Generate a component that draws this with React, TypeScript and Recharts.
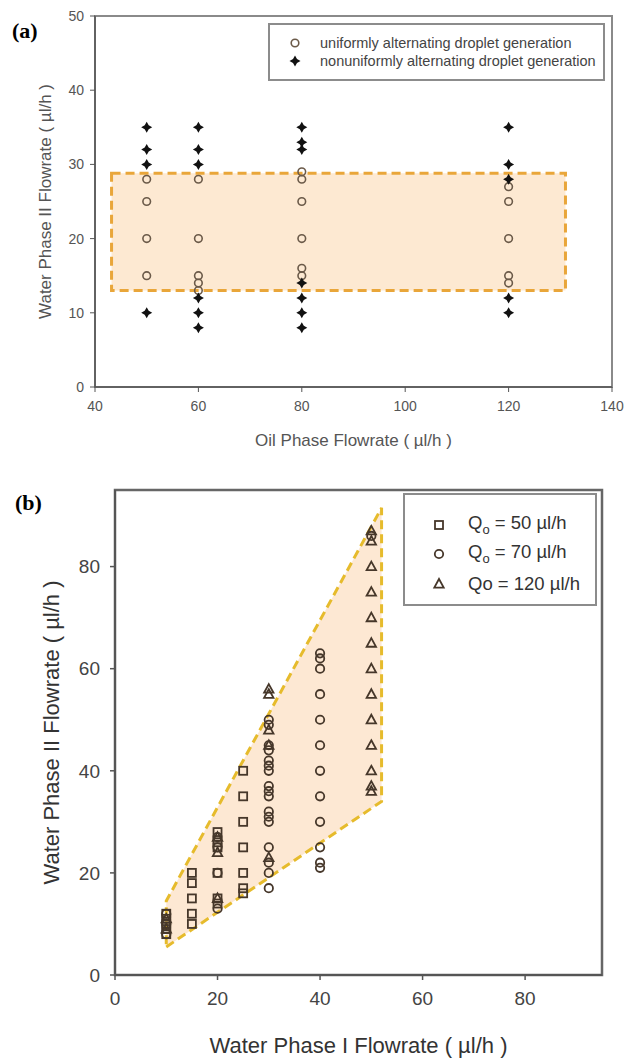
import React from 'react';
import { ScatterChart, Scatter, XAxis, YAxis, ReferenceArea, Legend } from 'recharts';

// (a) water phase II flowrate vs oil phase flowrate
const uniformOil = [50, 50, 50, 50, 60, 60, 60, 60, 60, 80, 80, 80, 80, 80, 80, 120, 120, 120, 120, 120];
const uniformWater = [28, 25, 20, 15, 28, 20, 15, 14, 13, 29, 28, 25, 20, 16, 15, 27, 25, 20, 15, 14];
const nonuniformOil = [50, 50, 50, 50, 60, 60, 60, 60, 60, 60, 80, 80, 80, 80, 80, 80, 80, 120, 120, 120, 120, 120];
const nonuniformWater = [35, 32, 30, 10, 35, 32, 30, 12, 10, 8, 35, 33, 32, 14, 12, 10, 8, 35, 30, 28, 12, 10];
const oilTicks = [40, 60, 80, 100, 120, 140];
const waterTicksA = [0, 10, 20, 30, 40, 50];
const zoneOil = [43.2, 131];
const zoneWaterA = [13, 28.8];

// (b) water phase II flowrate vs water phase I flowrate
const q50WaterI = [10, 10, 10, 10, 10, 15, 15, 15, 15, 15, 20, 20, 20, 20, 20, 20, 25, 25, 25, 25, 25, 25, 25];
const q50WaterII = [8, 9, 10, 11, 12, 10, 12, 15, 18, 20, 14, 15, 20, 25, 26, 28, 16, 17, 20, 25, 30, 35, 40];
const q70WaterI = [10, 10, 10, 20, 20, 20, 20,
  30, 30, 30, 30, 30, 30, 30, 30, 30, 30, 30, 30, 30, 30, 30, 30, 30,
  40, 40, 40, 40, 40, 40, 40, 40, 40, 40, 40, 40, 50];
const q70WaterII = [8, 10, 12, 13, 20, 25, 27,
  17, 20, 22, 25, 30, 31, 32, 35, 36, 37, 40, 41, 42, 44, 45, 49, 50,
  21, 22, 25, 30, 35, 40, 45, 50, 55, 60, 62, 63, 86];
const q120WaterI = [10, 10, 20, 20, 20, 30, 30, 30, 30, 30, 50, 50, 50, 50, 50, 50, 50, 50, 50, 50, 50, 50, 50];
const q120WaterII = [9, 11, 15, 24, 27, 23, 45, 48, 55, 56, 36, 37, 40, 45, 50, 55, 60, 65, 70, 75, 80, 85, 87];
const ticksB = [0, 20, 40, 60, 80];
const zoneWaterI = [10, 52, 52, 10];
const zoneWaterII = [5.5, 34, 91.5, 14.5];

const toPoints = (xs: number[], ys: number[]) => xs.map((x, i) => ({ x, y: ys[i] }));

const FONT = 'Arial, "Liberation Sans", sans-serif';
const MARK_B = '#46372a';

// markers
const ringA = (p: any) => (
  <circle cx={p.cx} cy={p.cy} r={3.8} fill="none" stroke="#6b5a49" strokeWidth={1.6} />
);
const starA = (p: any) => {
  const { cx, cy } = p;
  const a = 5.5;
  const t = 2;
  return (
    <path
      d={`M${cx},${cy - a} L${cx + t},${cy - t} L${cx + a},${cy} L${cx + t},${cy + t} L${cx},${cy + a} L${cx - t},${cy + t} L${cx - a},${cy} L${cx - t},${cy - t} Z`}
      fill="#111"
    />
  );
};
const squareB = (p: any) => (
  <rect x={p.cx - 4} y={p.cy - 4} width={8} height={8} fill="none" stroke={MARK_B} strokeWidth={1.8} />
);
const ringB = (p: any) => (
  <circle cx={p.cx} cy={p.cy} r={4.2} fill="none" stroke={MARK_B} strokeWidth={1.8} />
);
const triB = (p: any) => (
  <polygon
    points={`${p.cx},${p.cy - 5} ${p.cx + 4.7},${p.cy + 3.6} ${p.cx - 4.7},${p.cy + 3.6}`}
    fill="none"
    stroke={MARK_B}
    strokeWidth={1.8}
  />
);

// polygon zone for (b), mapped inside the box the library gives for its extent
const zoneShape = (p: any) => {
  const x0 = Math.min(...zoneWaterI);
  const x1 = Math.max(...zoneWaterI);
  const y0 = Math.min(...zoneWaterII);
  const y1 = Math.max(...zoneWaterII);
  const pts = zoneWaterI
    .map((vx, i) => {
      const px = p.x + ((vx - x0) / (x1 - x0)) * p.width;
      const py = p.y + ((y1 - zoneWaterII[i]) / (y1 - y0)) * p.height;
      return `${px},${py}`;
    })
    .join(' ');
  return (
    <polygon points={pts} fill="#fde8d3" stroke="#e6bb2c" strokeWidth={3} strokeDasharray="9 5" />
  );
};

const LegendA = () => (
  <div
    style={{
      border: '2px solid #8c8c8c',
      boxSizing: 'border-box',
      width: 337,
      height: 58,
      padding: '9px 0 0 17px',
      fontSize: 14.5,
      color: '#444',
      background: '#fff',
    }}
  >
    {[
      { label: 'uniformly alternating droplet generation', shape: ringA },
      { label: 'nonuniformly alternating droplet generation', shape: starA },
    ].map((row) => (
      <div key={row.label} style={{ display: 'flex', alignItems: 'center', height: 18 }}>
        <svg width={16} height={14}>{row.shape({ cx: 8, cy: 7 })}</svg>
        <span style={{ marginLeft: 17 }}>{row.label}</span>
      </div>
    ))}
  </div>
);

const LegendB = () => (
  <div
    style={{
      border: '2px solid #8c8c8c',
      boxSizing: 'border-box',
      width: 194,
      height: 113,
      padding: '15px 0 0 26px',
      fontSize: 18.5,
      color: '#333',
      background: '#fff',
    }}
  >
    {[
      { label: <>Q<sub style={{ fontSize: 13 }}>o</sub> = 50 µl/h</>, shape: squareB },
      { label: <>Q<sub style={{ fontSize: 13 }}>o</sub> = 70 µl/h</>, shape: ringB },
      { label: <>Qo = 120 µl/h</>, shape: triB },
    ].map((row, i) => (
      <div key={i} style={{ display: 'flex', alignItems: 'center', height: 29.5 }}>
        <svg width={16} height={16}>{row.shape({ cx: 8, cy: 8 })}</svg>
        <span style={{ marginLeft: 21, lineHeight: 1 }}>{row.label}</span>
      </div>
    ))}
  </div>
);

const App: React.FC = () => {
  return (
    <div style={{ position: 'relative', width: 635, height: 1059, fontFamily: FONT, background: '#fff' }}>
      <style>{'body{margin:0}'}</style>

      {/* Panel (a) */}
      <div style={{ position: 'absolute', left: 0, top: 0 }}>
        <ScatterChart width={635} height={460} margin={{ top: 16, right: 23, bottom: 0, left: 0 }}>
          <XAxis
            type="number"
            dataKey="x"
            domain={[40, 140]}
            ticks={oilTicks}
            height={73}
            tickSize={5}
            tickMargin={9}
            axisLine={{ stroke: '#555', strokeWidth: 1.5 }}
            tickLine={{ stroke: '#555' }}
            tick={{ fill: '#555', fontSize: 14 }}
            label={{ value: 'Oil Phase Flowrate ( µl/h )', position: 'insideBottom', offset: 14, fill: '#555', fontSize: 17 }}
          />
          <YAxis
            type="number"
            dataKey="y"
            domain={[0, 50]}
            ticks={waterTicksA}
            width={95}
            tickSize={5}
            tickMargin={6}
            axisLine={{ stroke: '#555', strokeWidth: 1.5 }}
            tickLine={{ stroke: '#555' }}
            tick={{ fill: '#555', fontSize: 14 }}
            label={{
              value: 'Water Phase II Flowrate ( µl/h )',
              angle: -90,
              position: 'insideLeft',
              offset: 45,
              fill: '#555',
              fontSize: 17,
              style: { textAnchor: 'middle' },
            }}
          />
          <ReferenceArea x1={40} x2={140} y1={0} y2={50} fill="none" stroke="#8a8a8a" strokeWidth={2} />
          <ReferenceArea
            x1={zoneOil[0]}
            x2={zoneOil[1]}
            y1={zoneWaterA[0]}
            y2={zoneWaterA[1]}
            fill="#fde9d2"
            fillOpacity={1}
            stroke="#e9a63a"
            strokeWidth={3}
            strokeDasharray="9 5"
          />
          <Legend
            layout="horizontal"
            align="center"
            verticalAlign="middle"
            wrapperStyle={{ left: 268, top: 23, width: 337, height: 58 }}
            content={() => <LegendA />}
          />
          <Scatter
            name="uniformly alternating droplet generation"
            data={toPoints(uniformOil, uniformWater)}
            shape={ringA}
            isAnimationActive={false}
          />
          <Scatter
            name="nonuniformly alternating droplet generation"
            data={toPoints(nonuniformOil, nonuniformWater)}
            shape={starA}
            isAnimationActive={false}
          />
        </ScatterChart>
        <div
          style={{
            position: 'absolute',
            left: 12,
            top: 20,
            fontFamily: '"Liberation Serif", "Times New Roman", serif',
            fontWeight: 'bold',
            fontSize: 22,
            lineHeight: 1,
          }}
        >
          (a)
        </div>
      </div>

      {/* Panel (b) */}
      <div style={{ position: 'absolute', left: 0, top: 480 }}>
        <ScatterChart width={635} height={579} margin={{ top: 10, right: 33, bottom: 0, left: 0 }}>
          <XAxis
            type="number"
            dataKey="x"
            domain={[0, 95]}
            ticks={ticksB}
            height={84}
            tickSize={5}
            tickMargin={12}
            axisLine={{ stroke: '#555', strokeWidth: 2 }}
            tickLine={{ stroke: '#555', strokeWidth: 1.5 }}
            tick={{ fill: '#444', fontSize: 19 }}
            label={{ value: 'Water Phase I Flowrate ( µl/h )', position: 'insideBottom', offset: 6, fill: '#333', fontSize: 22 }}
          />
          <YAxis
            type="number"
            dataKey="y"
            domain={[0, 95]}
            ticks={ticksB}
            width={115}
            tickSize={5}
            tickMargin={10}
            axisLine={{ stroke: '#555', strokeWidth: 2 }}
            tickLine={{ stroke: '#555', strokeWidth: 1.5 }}
            tick={{ fill: '#444', fontSize: 19 }}
            label={{
              value: 'Water Phase II Flowrate ( µl/h )',
              angle: -90,
              position: 'insideLeft',
              offset: 51,
              fill: '#333',
              fontSize: 22,
              style: { textAnchor: 'middle' },
            }}
          />
          <ReferenceArea x1={0} x2={95} y1={0} y2={95} fill="none" stroke="#666" strokeWidth={2.5} />
          <ReferenceArea
            x1={Math.min(...zoneWaterI)}
            x2={Math.max(...zoneWaterI)}
            y1={Math.min(...zoneWaterII)}
            y2={Math.max(...zoneWaterII)}
            shape={zoneShape}
          />
          <Legend
            layout="horizontal"
            align="center"
            verticalAlign="middle"
            wrapperStyle={{ left: 403, top: 13, width: 194, height: 113 }}
            content={() => <LegendB />}
          />
          <Scatter name="Qo = 50 µl/h" data={toPoints(q50WaterI, q50WaterII)} shape={squareB} isAnimationActive={false} />
          <Scatter name="Qo = 70 µl/h" data={toPoints(q70WaterI, q70WaterII)} shape={ringB} isAnimationActive={false} />
          <Scatter name="Qo = 120 µl/h" data={toPoints(q120WaterI, q120WaterII)} shape={triB} isAnimationActive={false} />
        </ScatterChart>
        <div
          style={{
            position: 'absolute',
            left: 15,
            top: 12,
            fontFamily: '"Liberation Serif", "Times New Roman", serif',
            fontWeight: 'bold',
            fontSize: 22,
            lineHeight: 1,
          }}
        >
          (b)
        </div>
      </div>
    </div>
  );
};

export default App;
